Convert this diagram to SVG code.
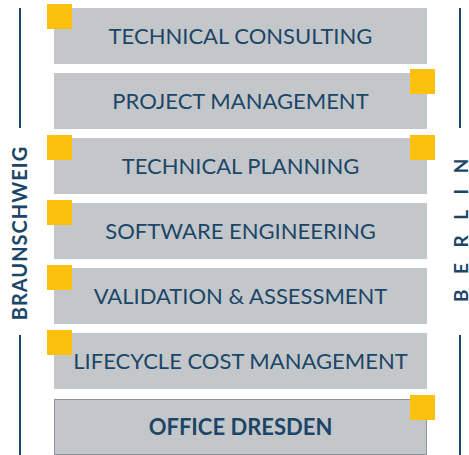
<svg xmlns="http://www.w3.org/2000/svg" width="469" height="455" viewBox="0 0 469 455">
<style>
.box{fill:#c4c7ca}
.sq{fill:#fcc10f}
.t{font-family:Lato,"Open Sans",sans-serif;font-size:22px;fill:#1b4668;text-anchor:middle}
.b{font-weight:bold}
.ln{stroke:#1b4668;stroke-width:2;fill:none}
.city{font-family:Lato,"Open Sans",sans-serif;font-weight:bold;fill:#1b4668}
</style>
<rect width="469" height="455" fill="#fff"/>
<g id="lines">
<line class="ln" x1="20" y1="8" x2="20" y2="128"/>
<line class="ln" x1="20" y1="335" x2="20" y2="455"/>
<line class="ln" x1="460" y1="8" x2="460" y2="128"/>
<line class="ln" x1="460" y1="335" x2="460" y2="455"/>
</g>
<g id="braunschweig"><text class="city" font-size="20" letter-spacing="1" text-anchor="middle" transform="translate(27,233) rotate(-90)">BRAUNSCHWEIG</text></g>
<g id="berlin"><text class="city" font-size="19" font-weight="normal" letter-spacing="15.5" transform="translate(468,302) rotate(-90)">BERLIN</text></g>
<g id="n1"><rect class="box" x="54" y="8" width="373" height="56"/><rect class="sq" x="47" y="4" width="25" height="25"/><text class="t" x="240.5" y="44">TECHNICAL CONSULTING</text></g>
<g id="n2"><rect class="box" x="54" y="73" width="373" height="56"/><rect class="sq" x="410" y="69" width="25" height="25"/><text class="t" x="240.5" y="109">PROJECT MANAGEMENT</text></g>
<g id="n3"><rect class="box" x="54" y="138" width="373" height="56"/><rect class="sq" x="47" y="135" width="25" height="25"/><rect class="sq" x="410" y="135" width="25" height="25"/><text class="t" x="240.5" y="174">TECHNICAL PLANNING</text></g>
<g id="n4"><rect class="box" x="54" y="203" width="373" height="56"/><rect class="sq" x="47" y="200" width="25" height="25"/><text class="t" x="240.5" y="239">SOFTWARE ENGINEERING</text></g>
<g id="n5"><rect class="box" x="54" y="268" width="373" height="56"/><rect class="sq" x="47" y="265" width="25" height="25"/><text class="t" x="240.5" y="304">VALIDATION &amp; ASSESSMENT</text></g>
<g id="n6"><rect class="box" x="54" y="333" width="373" height="56"/><rect class="sq" x="47" y="330" width="25" height="25"/><text class="t" x="240.5" y="369">LIFECYCLE COST MANAGEMENT</text></g>
<g id="n7"><rect class="box" x="54.5" y="399.5" width="372" height="55" stroke="#8c9297" stroke-width="1"/><rect class="sq" x="410" y="395" width="25" height="25"/><text class="t b" x="240.5" y="435">OFFICE DRESDEN</text></g>
</svg>
